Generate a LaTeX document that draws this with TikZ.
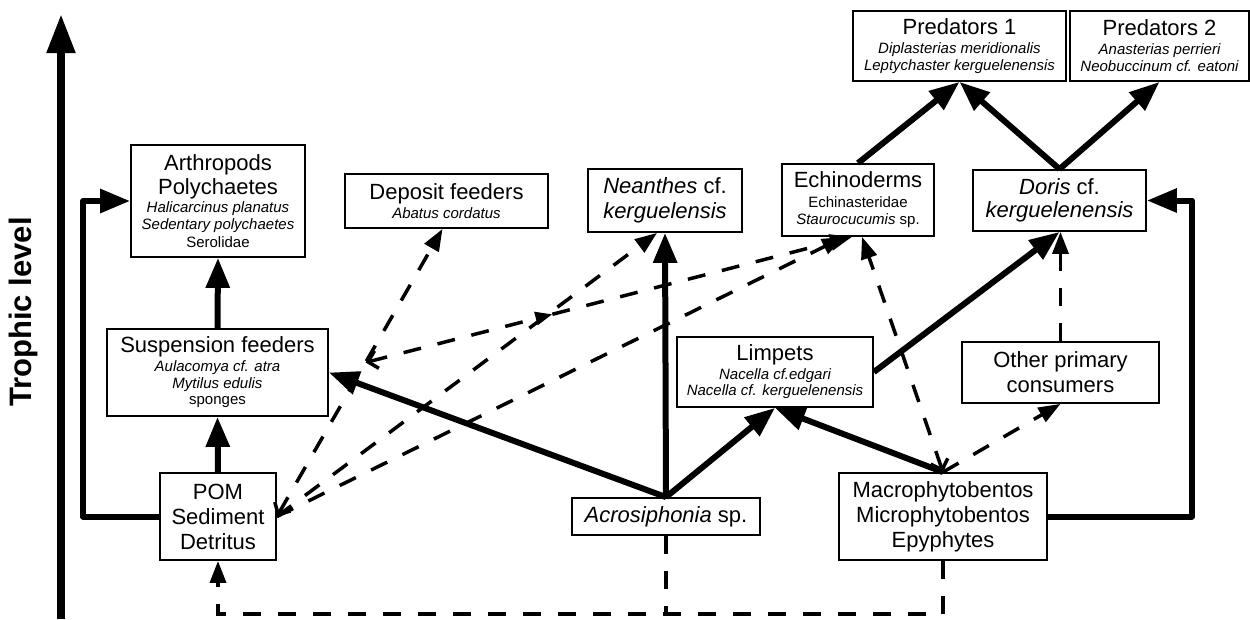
\documentclass[tikz,border=0pt]{standalone}
\usepackage{fontspec}
\setmainfont{Liberation Sans}
\usetikzlibrary{arrows.meta,calc}
\newcommand{\sm}{\fontsize{15}{17}\selectfont}
\begin{document}
\begin{tikzpicture}[x=1pt,y=-1pt,
  box/.style={draw,line width=1.8pt,align=center,inner sep=1pt,font=\fontsize{22}{25}\selectfont},
  solidline/.style={line width=6pt,line join=round},
  solidarrow/.style={solidline,-{Triangle[length=30pt,width=23pt]}},
  dashline/.style={line width=3.5pt,dash pattern=on 18pt off 17pt},
  dasharrow/.style={dashline,-{Triangle[length=22pt,width=16pt]}},
  openend/.style={dashline,{Straight Barb[length=9pt,width=18pt]}-{Triangle[length=22pt,width=16pt]}},
]
\useasboundingbox (0,0) rectangle (1250,619);
\node[rotate=90,font=\fontsize{31}{31}\selectfont\bfseries] (tl) at (23,312) {Trophic level};
\coordinate (tb) at (61,619);
\coordinate (tt) at (61,14);
\draw[line width=8pt,-{Triangle[length=39pt,width=27pt]}] (tb) -- (tt);

\node[box,minimum width=174pt,minimum height=112pt] (arth) at (218,201) {Arthropods\\[-1pt]Polychaetes\\[-7pt]{\sm\itshape Halicarcinus planatus}\\[-8pt]{\sm\itshape Sedentary polychaetes}\\[-7pt]{\sm Serolidae}};
\node[box,minimum width=203pt,minimum height=54pt] (dep) at (446.5,201) {Deposit feeders\\[-6pt]{\sm\itshape Abatus cordatus}};
\node[box,minimum width=154pt,minimum height=63pt] (nea) at (665,200.5) {{\itshape Neanthes} cf.\\{\itshape kerguelensis}};
\node[box,minimum width=152pt,minimum height=72pt] (echi) at (858,200) {Echinoderms\\[-5pt]{\sm Echinasteridae}\\[-8pt]{\sm{\itshape Staurocucumis} sp.}};
\node[box,minimum width=173pt,minimum height=61pt] (doris) at (1059.5,200.5) {{\itshape Doris} cf.\\[-2pt]{\itshape kerguelenensis}};
\node[box,minimum width=213pt,minimum height=70pt] (pred1) at (959.5,46) {Predators 1\\[-6pt]{\sm\itshape Diplasterias meridionalis}\\[-8pt]{\sm\itshape Leptychaster kerguelenensis}};
\node[box,minimum width=179pt,minimum height=70pt] (pred2) at (1159.5,46) {Predators 2\\[-6pt]{\sm\itshape Anasterias perrieri}\\[-8pt]{\sm\itshape Neobuccinum cf. eatoni}};
\node[box,minimum width=221pt,minimum height=87pt] (susp) at (217.5,372.5) {Suspension feeders\\[-6pt]{\sm\itshape Aulacomya cf. atra}\\[-8pt]{\sm\itshape Mytilus edulis}\\[-9pt]{\sm sponges}};
\node[box,minimum width=196pt,minimum height=70pt] (lim) at (775,372) {Limpets\\[-6pt]{\sm\itshape Nacella cf.edgari}\\[-9pt]{\sm\itshape Nacella cf. kerguelenensis}};
\node[box,minimum width=197pt,minimum height=61pt] (oth) at (1060.5,372.5) {Other primary\\consumers};
\node[box,minimum width=116pt,minimum height=87pt] (pom) at (218,516.5) {POM\\Sediment\\Detritus};
\node[box,minimum width=188pt,minimum height=37pt] (acro) at (666,516.5) {{\itshape Acrosiphonia} sp.};
\node[box,minimum width=208pt,minimum height=87pt] (macro) at (943,516.5) {Macrophytobentos\\Microphytobentos\\Epyphytes};

% solid connectors
\coordinate (lc) at (83,201);
\coordinate (rc) at (1192,200.5);
\draw[solidarrow] (pom.west) -| (lc) -- (arth.west);
\draw[solidarrow] (pom.north) -- (susp.south);
\draw[solidarrow] (susp.north) -- (arth.south);
\draw[solidarrow] (acro.north) -- (susp.east);
\draw[solidarrow] (acro.north) -- (nea.south);
\draw[solidarrow] (acro.north) -- (lim.south);
\draw[solidarrow] (macro.north) -- (lim.south);
\draw[solidarrow] (lim.east) -- (doris.south);
\draw[solidarrow] (echi.north) -- (pred1.south);
\draw[solidarrow] (doris.north) -- (pred1.south);
\draw[solidarrow] (doris.north) -- (pred2.south);
\draw[solidarrow] (macro.east) -| (rc) -- (doris.east);

% dashed connectors
\coordinate (bl) at (218,614);
\draw[dasharrow] (macro.south) |- (bl) -- (pom.south);
\draw[dashline] (acro.south) -- (acro.south |- bl);
\coordinate (depin) at ([xshift=-4pt]dep.south);
\draw[openend] (pom.east) -- (depin);
\coordinate (j1) at ($(pom.east)!0.5355!(depin)$);
\coordinate (echc) at ([xshift=-6pt]echi.south);
\coordinate (cmid) at ($(j1)!0.384!(echc)$);
\draw[dashline,{Straight Barb[length=9pt,width=18pt]}-{Triangle[length=17pt,width=13pt]}] (j1) -- (cmid);
\draw[dasharrow] (cmid) -- (echc);
\draw[dasharrow] (pom.east) -- ([xshift=-8pt]nea.south);
\draw[dasharrow] (pom.east) -- ([xshift=-14pt]echi.south);
\draw[openend] (macro.north) -- ([xshift=4pt]echi.south);
\draw[dasharrow] (macro.north) -- (oth.south);
\draw[dasharrow] (oth.north) -- (oth.north |- doris.south);
\end{tikzpicture}
\end{document}
